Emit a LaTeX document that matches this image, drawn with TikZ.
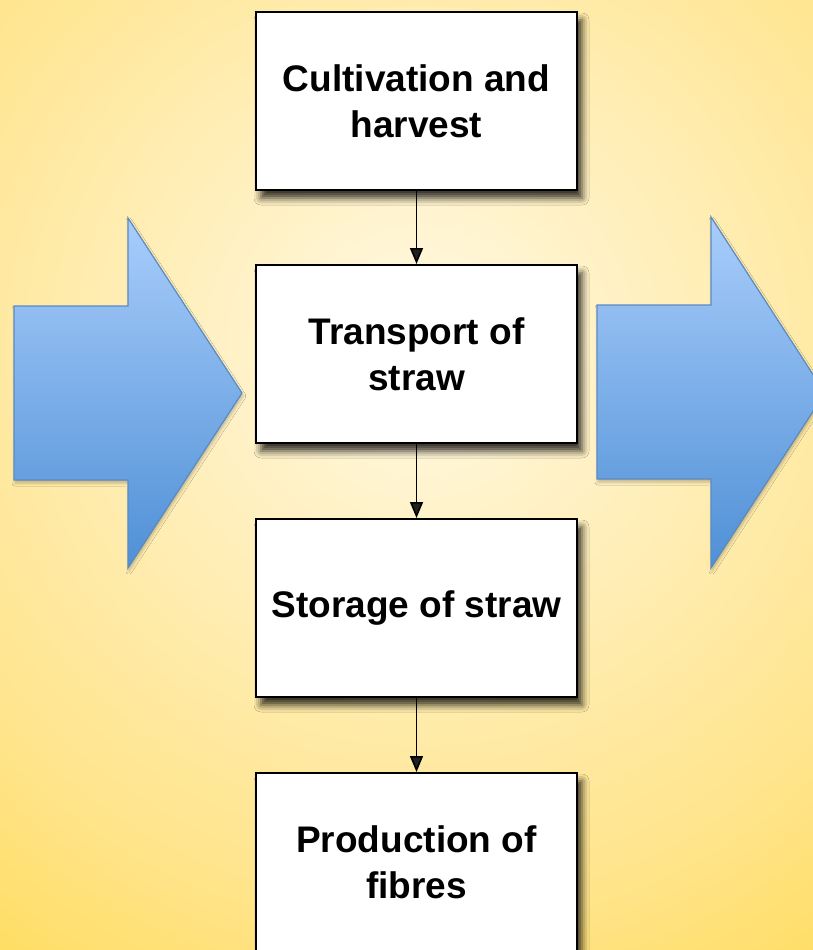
\documentclass[tikz,border=0pt]{standalone}
\usepackage{fontspec}
\setmainfont{Liberation Sans}
\usetikzlibrary{arrows.meta,shadows.blur}

\definecolor{glowA}{HTML}{FFFAE6}
\definecolor{glowB}{HTML}{FFF0C0}
\definecolor{glowC}{HTML}{FFE48A}
\definecolor{glowD}{HTML}{FFDB55}
\definecolor{glowE}{HTML}{FFD535}
\definecolor{arrowTop}{HTML}{A9CDFB}
\definecolor{arrowBot}{HTML}{4F90D6}
\definecolor{arrowLine}{HTML}{5A8AC4}

\pgfdeclareradialshading{bgglow}{\pgfpoint{0bp}{0bp}}{%
  color(0bp)=(glowA); color(6bp)=(glowB); color(15bp)=(glowC);
  color(21bp)=(glowD); color(27bp)=(glowE); color(50bp)=(glowE)}

\tikzset{
  stage/.style={draw=black, line width=2pt, fill=white,
    minimum width=321pt, minimum height=178pt, inner sep=0pt,
    align=center, font=\fontsize{37}{46}\selectfont\bfseries,
    blur shadow={shadow xshift=5pt, shadow yshift=-8pt,
      shadow blur radius=7pt, shadow opacity=80}},
  flow/.style={line width=1.6pt, -{Triangle[length=16pt,width=13pt]}},
  bigarrow/.style={top color=arrowTop, bottom color=arrowBot,
    draw=arrowLine, line width=1.2pt, line join=miter,
    blur shadow={shadow xshift=1pt, shadow yshift=-3pt,
      shadow blur radius=3pt, shadow opacity=25}}
}

\begin{document}
\begin{tikzpicture}[x=1pt, y=-1pt]
  \useasboundingbox (0,0) rectangle (813,950);
  \clip (0,0) rectangle (813,950);
  \shade[shading=bgglow] (420,350) circle (950);

  % side arrows
  \shade[bigarrow] (14,306) -- (128,306) -- (128,218) -- (242,393)
    -- (128,568) -- (128,480) -- (14,480) -- cycle;
  \shade[bigarrow] (597,305) -- (711,305) -- (711,217) -- (825,393)
    -- (711,568) -- (711,479) -- (597,479) -- cycle;

  % stages
  \node[stage] (cultivation) at (416.5,101) {Cultivation and\\harvest};
  \node[stage] (transport) at (416.5,354) {Transport of\\straw};
  \node[stage] (storage) at (416.5,608) {Storage of straw};
  \node[stage] (production) at (416.5,862) {Production of\\fibres};

  \draw[flow] (cultivation) -- (transport);
  \draw[flow] (transport) -- (storage);
  \draw[flow] (storage) -- (production);
\end{tikzpicture}
\end{document}
